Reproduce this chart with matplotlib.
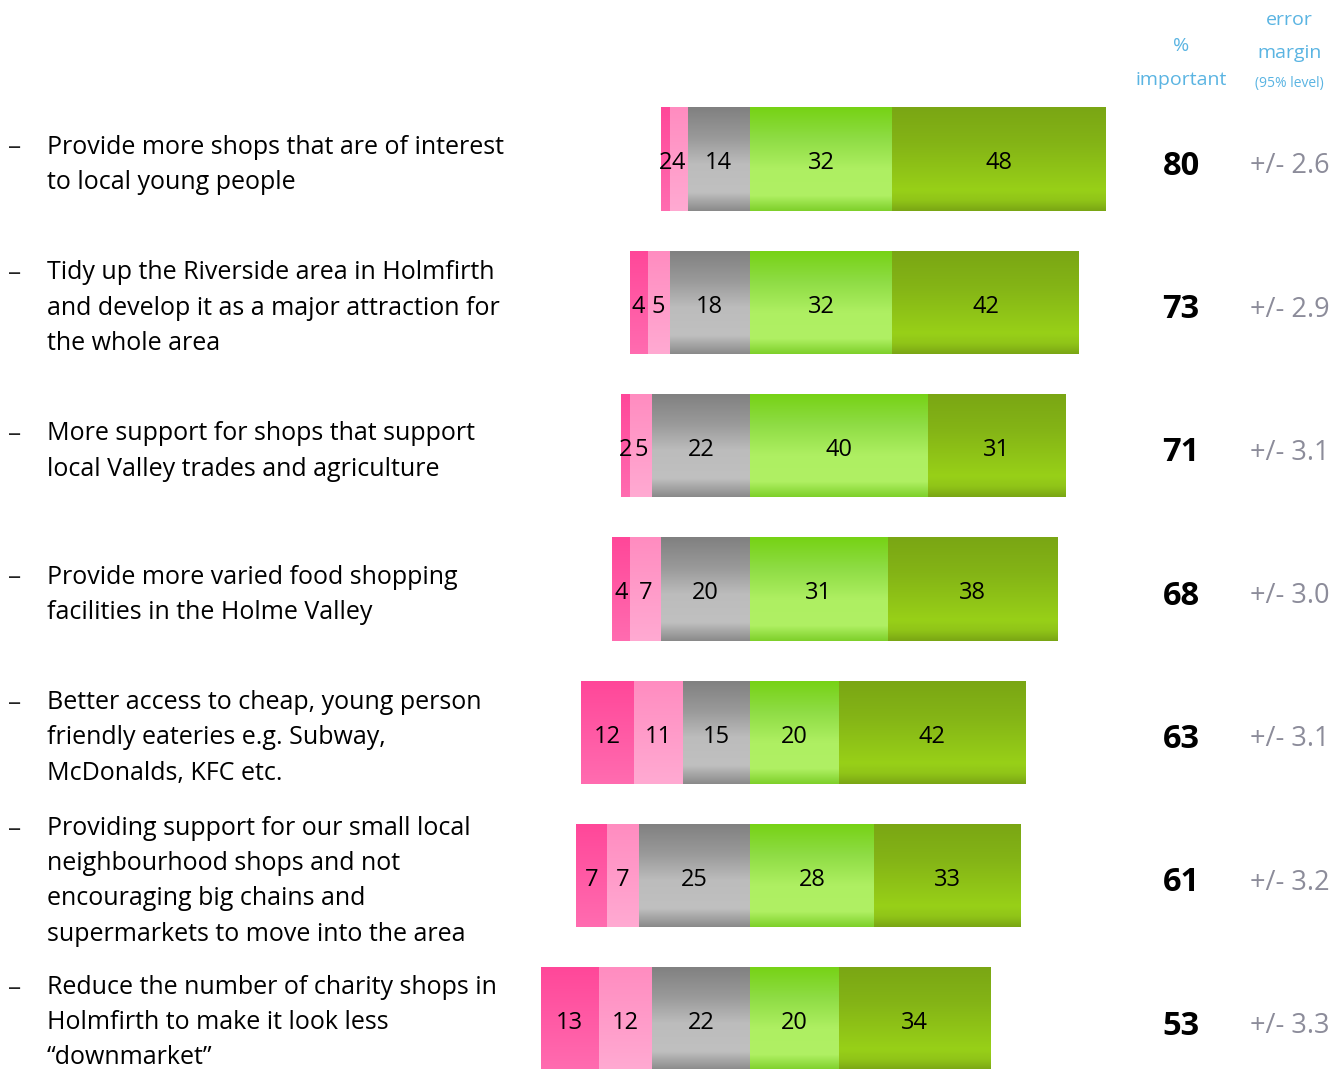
import numpy as np
import matplotlib
matplotlib.use("Agg")
import matplotlib.pyplot as plt
from matplotlib.colors import LinearSegmentedColormap

# ── data ──
statements = [
    "Provide more shops that are of interest\nto local young people",
    "Tidy up the Riverside area in Holmfirth\nand develop it as a major attraction for\nthe whole area",
    "More support for shops that support\nlocal Valley trades and agriculture",
    "Provide more varied food shopping\nfacilities in the Holme Valley",
    "Better access to cheap, young person\nfriendly eateries e.g. Subway,\nMcDonalds, KFC etc.",
    "Providing support for our small local\nneighbourhood shops and not\nencouraging big chains and\nsupermarkets to move into the area",
    "Reduce the number of charity shops in\nHolmfirth to make it look less\n\u201cdownmarket\u201d",
]
very_unimportant = [2, 4, 2, 4, 12, 7, 13]
unimportant = [4, 5, 5, 7, 11, 7, 12]
neutral = [14, 18, 22, 20, 15, 25, 22]
important = [32, 32, 40, 31, 20, 28, 20]
very_important = [48, 42, 31, 38, 42, 33, 34]
pct_important = [80, 73, 71, 68, 63, 61, 53]
error_margin = [2.6, 2.9, 3.1, 3.0, 3.1, 3.2, 3.3]

FONT = "Open Sans"

# gradient stops (top -> bottom) per segment type
GRADS = [
    [(0, "#ff4799"), (1, "#ff6cb0")],
    [(0, "#ff8cc0"), (1, "#ffaad2")],
    [(0, "#808080"), (0.3, "#9a9a9a"), (0.55, "#bcbcbc"), (0.82, "#c0c0c0"), (1, "#8a8a8a")],
    [(0, "#76d214"), (0.3, "#8edc44"), (0.6, "#aeef62"), (0.85, "#b0f064"), (1, "#7ed02a")],
    [(0, "#7aa614"), (0.35, "#84b416"), (0.8, "#98d018"), (0.9, "#90c418"), (1, "#7aa614")],
]
cmaps = [LinearSegmentedColormap.from_list("g%d" % i, g) for i, g in enumerate(GRADS)]

fig = plt.figure(figsize=(13.44, 10.69), dpi=100)
ax = fig.add_axes([0, 0, 1, 1])
ax.axis("off")

n = len(statements)
y = np.arange(n)
h = 0.72
left_start = -np.array([a + b + c for a, b, c in zip(very_unimportant, unimportant, neutral)], dtype=float)
series = [very_unimportant, unimportant, neutral, important, very_important]
grad = np.linspace(0, 1, 256).reshape(-1, 1)

lefts = left_start.copy()
for k, vals in enumerate(series):
    vals = np.array(vals, dtype=float)
    bars = ax.barh(y, vals, left=lefts, height=h, color="none", edgecolor="none")
    for i, b in enumerate(bars):
        x0, yb = b.get_x(), b.get_y()
        im = ax.imshow(grad, cmap=cmaps[k], aspect="auto", origin="upper",
                       extent=(x0, x0 + b.get_width(), yb + h, yb), zorder=1)
        im.set_clip_path(b)
        ax.text(x0 + b.get_width() / 2, y[i] + 0.03, str(int(vals[i])),
                ha="center", va="center", fontsize=17, family=FONT, color="black", zorder=3)
    lefts = lefts + vals

ax.set_xlim(-168.5, 133.5)
ax.set_ylim(6.35, -1.11)

# statements with dash bullets
lh = 0.245  # one line in row units
for i, s in enumerate(statements):
    nl = s.count("\n") + 1
    yc = y[i] + 0.04 if i < n - 1 else y[i] + 0.025
    ax.text(0.035, yc, s, transform=ax.get_yaxis_transform(), ha="left", va="center",
            fontsize=18, family=FONT, color="black", linespacing=1.54)
    ax.text(0.006, yc - (nl - 1) * lh / 2 + 0.005, "\u2013", transform=ax.get_yaxis_transform(),
            ha="left", va="center", fontsize=19, family=FONT, color="#222222")

# right-hand columns
x_pct, x_err = 96.9, 121.3
for i in range(n):
    ax.text(x_pct, y[i] + 0.05, str(pct_important[i]), ha="center", va="center",
            fontsize=23.5, fontweight="bold", family=FONT, color="black")
    ax.text(x_err, y[i] + 0.05, "+/- %.1f" % error_margin[i], ha="center", va="center",
            fontsize=19.5, family=FONT, color="#8c8c9a")

BLUE = "#5ab4e2"
ax.text(x_pct, -0.79, "%", ha="center", va="center", fontsize=14, family=FONT, color=BLUE)
ax.text(x_pct, -0.55, "important", ha="center", va="center", fontsize=14, family=FONT, color=BLUE)
ax.text(x_err, -0.97, "error", ha="center", va="center", fontsize=14, family=FONT, color=BLUE)
ax.text(x_err, -0.74, "margin", ha="center", va="center", fontsize=14, family=FONT, color=BLUE)
ax.text(x_err, -0.53, "(95% level)", ha="center", va="center", fontsize=10, family=FONT, color=BLUE)

fig.savefig("out.png", dpi=100, facecolor="white")
